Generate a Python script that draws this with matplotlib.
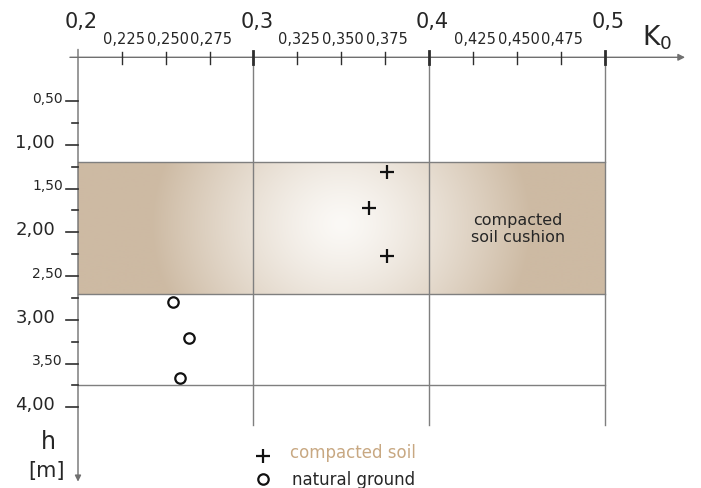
import numpy as np
import matplotlib
matplotlib.use("Agg")
import matplotlib.pyplot as plt

# ---------------- data ----------------
compacted_k = [0.376, 0.366, 0.376]
compacted_h = [1.31, 1.72, 2.27]
natural_k = [0.254, 0.263, 0.258]
natural_h = [2.80, 3.21, 3.66]

k_major = [0.2, 0.3, 0.4, 0.5]
k_major_labels = ["0,2", "0,3", "0,4", "0,5"]
k_minor = [0.225, 0.25, 0.275, 0.325, 0.35, 0.375, 0.425, 0.45, 0.475]
k_minor_labels = ["0,225", "0,250", "0,275", "0,325", "0,350", "0,375",
                  "0,425", "0,450", "0,475"]

h_major = [0.5, 1.0, 1.5, 2.0, 2.5, 3.0, 3.5, 4.0]
h_major_labels = ["0,50", "1,00", "1,50", "2,00", "2,50", "3,00", "3,50", "4,00"]
h_minor = [0.75, 1.25, 1.75, 2.25, 2.75, 3.25, 3.75]

cushion_top = 1.2
cushion_bottom = 2.7
layer_bottom = 3.75
k_left, k_right = 0.2, 0.5
grid_bottom = 4.2

# ---------------- figure ----------------
W, H = 701, 489
fig = plt.figure(figsize=(W / 100, H / 100), dpi=100)
ax = fig.add_axes([0, 0, 1, 1])
ax.set_axis_off()
px_per_k = 1755.0
px_per_m = 87.5
x0px, y0px = 78.0, 58.3
ax.set_xlim(0.2 - x0px / px_per_k, 0.2 + (W - x0px) / px_per_k)
ax.set_ylim((H - y0px) / px_per_m, -y0px / px_per_m)

grid_c = "#7f7f7f"
axis_c = "#707070"
tick_c = "#2e2e2e"
text_c = "#262626"

# gradient band (style only)
nx, ny = 526, 131
u = np.linspace(0, 1, nx)[None, :]
v = np.linspace(0, 1, ny)[:, None]
dx = (u - 0.50) * nx / 190.0
dy = (v - 0.47) * ny / 170.0
t = np.clip(np.sqrt(dx ** 2 + dy ** 2), 0, 1)
f = t ** 1.3
tan = np.array([205, 186, 163]) / 255.0
white = np.array([251, 249, 246]) / 255.0
img = white[None, None, :] + (tan - white)[None, None, :] * f[..., None]
ax.imshow(img, extent=[k_left, k_right, cushion_bottom, cushion_top],
          origin="upper", aspect="auto", zorder=0, interpolation="bilinear")

# grid lines
for k in k_major[1:]:
    ax.plot([k, k], [0, grid_bottom], color=grid_c, lw=1.0, zorder=1)
for h in [cushion_top, cushion_bottom, layer_bottom]:
    ax.plot([k_left, k_right], [h, h], color=grid_c, lw=1.0, zorder=1)

# axes with arrows
ax.annotate("", xy=(0.5459, 0), xytext=(0.1954, 0),
            arrowprops=dict(arrowstyle="-|>", color=axis_c, lw=1.0,
                            mutation_scale=10, shrinkA=0, shrinkB=0), zorder=2)
ax.annotate("", xy=(0.2, 4.85), xytext=(0.2, -0.09),
            arrowprops=dict(arrowstyle="-|>", color=axis_c, lw=1.0,
                            mutation_scale=9, shrinkA=0, shrinkB=0), zorder=2)

# top ticks
for k in k_major[1:]:
    ax.plot([k, k], [-0.075, 0.075], color=tick_c, lw=2.0, zorder=3)
for k in k_minor:
    ax.plot([k, k], [-0.06, 0.075], color=tick_c, lw=1.0, zorder=3)
for k, lab in zip(k_major, k_major_labels):
    ax.text(k + 0.002, -0.345, lab, fontsize=15, ha="center", va="baseline",
            color=text_c)
for k, lab in zip(k_minor, k_minor_labels):
    ax.text(k + 0.001, -0.163, lab, fontsize=10.5, ha="center", va="baseline",
            color=text_c)

# K0 label
ax.text(0.5215, -0.15, r"$\mathregular{K_0}$", fontsize=19, ha="left",
        va="baseline", color=text_c)

# left ticks and labels
for i, (h, lab) in enumerate(zip(h_major, h_major_labels)):
    ax.plot([0.2 - 12 / px_per_k, 0.2], [h, h], color=tick_c, lw=1.2, zorder=3)
    if i % 2 == 0:
        ax.text(0.2 - 15 / px_per_k, h + 0.01, lab, fontsize=10, ha="right",
                va="baseline", color=text_c)
    else:
        ax.text(0.2 - 23 / px_per_k, h + 0.02, lab, fontsize=13, ha="right",
                va="baseline", color=text_c)
for h in h_minor:
    ax.plot([0.2 - 6 / px_per_k, 0.2], [h, h], color=tick_c, lw=1.2, zorder=3)

ax.text(0.2 - 30 / px_per_k, 4.38, "h", fontsize=17, ha="center", va="center",
        color=text_c)
ax.text(0.2 - 32 / px_per_k, 4.72, "[m]", fontsize=15, ha="center",
        va="center", color=text_c)

# layer label
ax.text(0.4505, 1.95, "compacted\nsoil cushion", fontsize=11.5, ha="center",
        va="center", color=text_c, linespacing=1.15)

# data points
ax.plot(compacted_k, compacted_h, linestyle="none", marker="+", ms=10,
        mew=1.6, color="#111111", zorder=5)
ax.plot(natural_k, natural_h, linestyle="none", marker="o", ms=7.5,
        mew=1.6, mfc="none", mec="#111111", zorder=5)

# legend
ax.plot([0.3054], [4.556], linestyle="none", marker="+", ms=10, mew=1.6,
        color="#111111")
ax.plot([0.3054], [4.82], linestyle="none", marker="o", ms=7.5, mew=1.6,
        mfc="none", mec="#111111")
ax.text(0.3208, 4.51, "compacted soil", fontsize=12, ha="left", va="center",
        color="#c8a882")
ax.text(0.3219, 4.82, "natural ground", fontsize=12, ha="left", va="center",
        color=text_c)

fig.savefig("out.png", dpi=100)
